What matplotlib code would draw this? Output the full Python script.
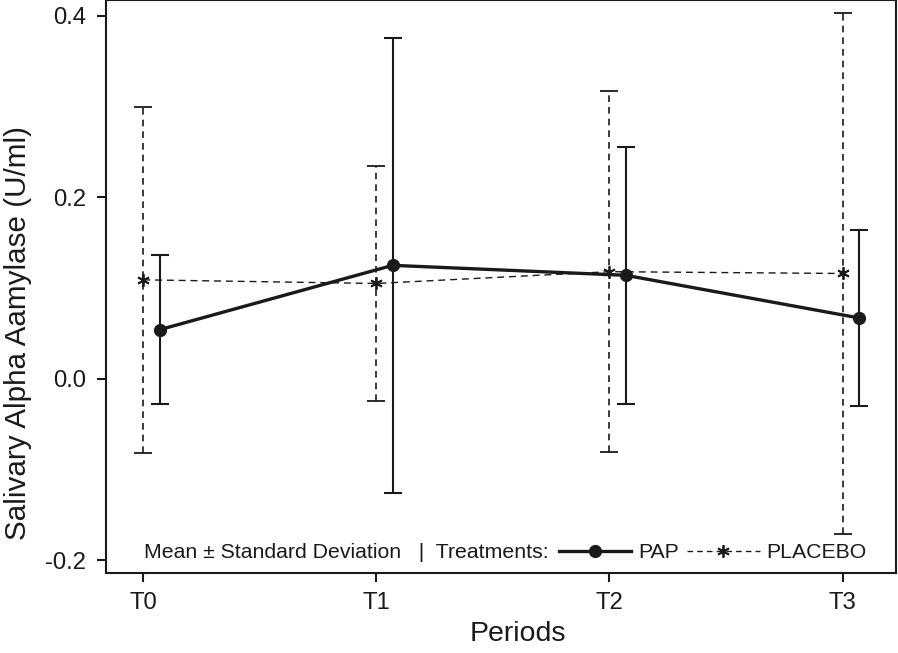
import numpy as np
import matplotlib
matplotlib.use('Agg')
import matplotlib.pyplot as plt
from matplotlib.lines import Line2D

plt.rcParams['font.family'] = ['Liberation Sans', 'DejaVu Sans']

periods = ['T0', 'T1', 'T2', 'T3']
pap_mean = [0.054, 0.125, 0.114, 0.067]
pap_sd = [0.082, 0.251, 0.142, 0.097]
placebo_mean = [0.109, 0.105, 0.118, 0.116]
placebo_sd = [0.191, 0.130, 0.199, 0.287]

ink = '#1a1a1a'
x = np.arange(len(periods))
offset = 0.07

fig = plt.figure(figsize=(8.98, 6.53), dpi=100)
ax = fig.add_axes([0.118, 0.1225, 0.880, 0.8775])

# placebo: dashed line, asterisk marker, dashed error bars
eb = ax.errorbar(x, placebo_mean, yerr=placebo_sd, color=ink, lw=1.0, ls=(0, (5, 3.5)),
                 marker=(6, 2, 0), ms=9, mew=1.3, capsize=6.5, capthick=1.3,
                 elinewidth=1.2, zorder=2)
eb[2][0].set_linestyle((0, (4, 3)))

# PAP: solid line, filled circle
ax.errorbar(x + offset, pap_mean, yerr=pap_sd, color=ink, lw=2.4, marker='o', ms=8.5,
            capsize=6.5, capthick=1.5, elinewidth=1.5, zorder=3)

ax.set_xlim(-0.16, 3.23)
ax.set_ylim(-0.2143, 0.4176)
ax.set_xticks(x)
ax.set_xticklabels(periods)
ax.set_yticks([-0.2, 0.0, 0.2, 0.4])
ax.set_yticklabels(['-0.2', '0.0', '0.2', '0.4'])
ax.tick_params(axis='both', direction='out', length=6.5, width=1.5, color=ink,
               labelsize=17.2, labelcolor=ink)
ax.tick_params(axis='y', pad=8)
ax.tick_params(axis='x', pad=7)
for s in ax.spines.values():
    s.set_linewidth(1.5)
    s.set_color(ink)

ax.set_xlabel('Periods', fontsize=20.5, color=ink, labelpad=5)
ax.xaxis.label.set_x(0.5215)
ax.set_ylabel('Salivary Alpha Aamylase (U/ml)', fontsize=21.3, color=ink)
ax.yaxis.set_label_coords(-0.0937, 0.418)

ax.text(0.0481, 0.035, 'Mean \u00b1 Standard Deviation   |  Treatments:', transform=ax.transAxes,
        fontsize=15.3, color=ink, ha='left', va='center')
handles = [Line2D([], [], color=ink, lw=2.4, marker='o', ms=8.5),
           Line2D([], [], color=ink, lw=1.0, ls=(0, (4, 3)), marker=(6, 2, 0), ms=9, mew=1.3)]
ax.legend(handles, ['PAP', 'PLACEBO'], loc='center left', bbox_to_anchor=(0.573, 0.035),
          ncol=2, frameon=False, fontsize=15.3, handlelength=3.4, handletextpad=0.33,
          columnspacing=0.4, borderpad=0, borderaxespad=0, labelcolor=ink)

fig.savefig('out.png', dpi=100)
